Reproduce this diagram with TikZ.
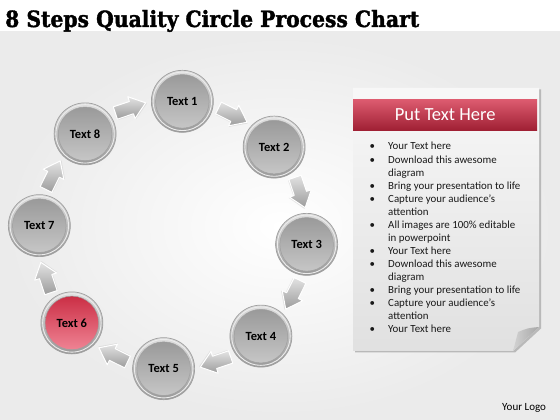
\documentclass[tikz,border=0pt]{standalone}
\usepackage{fontspec}
\setmainfont{Carlito}
\newfontfamily\titlefont{DejaVu Serif}[BoldFeatures={FakeBold=1.6}]
\usetikzlibrary{calc}
\definecolor{redtop}{RGB}{200,40,63}
\definecolor{redbot}{RGB}{242,138,154}
\definecolor{headtop}{RGB}{222,92,112}
\definecolor{headbot}{RGB}{160,32,52}
\tikzset{
  face/.style 2 args={path picture={
      \shade[top color=#1, bottom color=#2] (path picture bounding box.center) circle (26.8pt);
      \draw[white!85!gray, line width=0.9pt] (path picture bounding box.center) circle (29.2pt);
      \draw[gray!75, line width=0.5pt] (path picture bounding box.center) circle (26.8pt);
  }},
  stepbase/.style={circle, minimum size=62pt, inner sep=0pt, draw=gray!75, line width=0.7pt,
      top color=gray!25, bottom color=gray!80,
      font=\bfseries\fontsize{12.5}{14}\selectfont},
  greystep/.style={stepbase, face={gray!82}{gray!42}},
  redstep/.style={stepbase, face={redtop}{redbot}},
  flowshape/.style={draw=white, line width=1pt, top color=gray!22, bottom color=gray!78, line join=round},
  listtext/.style={font=\fontsize{10.9}{13.07}\selectfont, text=black!90, inner sep=0pt}
}
\begin{document}
\begin{tikzpicture}[x=1pt,y=1pt]
\useasboundingbox (0,0) rectangle (560,420);
\fill[white] (0,0) rectangle (560,420);
\shade[inner color=white, outer color=gray!16] (0,0) rectangle (560,388);
% title
\node[anchor=base west, inner sep=0pt] (title) at (5,393)
  {\resizebox{414pt}{17pt}{\titlefont\bfseries 8 Steps Quality Circle Process Chart}};
% circle of steps
\coordinate (C) at (173,185);
\foreach \k/\sty in {1/greystep,2/greystep,3/greystep,4/greystep,5/greystep,6/redstep,7/greystep,8/greystep}{
  \node[\sty] (c\k) at ($(C)+({86-45*(\k-1)}:134)$) {Text \k};
}
% block arrows between steps
\foreach \k in {1,...,8}{
  \coordinate (a\k) at ($(C)+({86-45*\k+22.5}:134)$);
  \begin{scope}[shift={(a\k)}, rotate={86-45*\k+22.5-90}]
    \fill[gray!40, opacity=0.5] (-15,-7.5) -- (1.5,-7.5) -- (1.5,-12.5) -- (17,-1) -- (1.5,10.5) -- (1.5,5.5) -- (-15,5.5) -- cycle;
    \shade[flowshape] (-16,-6.5) -- (1,-6.5) -- (1,-11.5) -- (16,0) -- (1,11.5) -- (1,6.5) -- (-16,6.5) -- cycle;
  \end{scope}
}
% panel
\fill[gray!55] (355,330.5) -- (541,330.5) -- (541,91.5) -- (515,67.5) -- (355,67.5) -- cycle;
\shade[top color=gray!6, bottom color=gray!24] (353,332) -- (539,332) -- (539,93) -- (513,69) -- (353,69) -- cycle;
\shade[left color=gray!35, right color=gray!70] (539,93) .. controls (528,92) .. (518,88) .. controls (516,80) .. (513,69) -- cycle;
\node[anchor=north west, minimum width=184pt, minimum height=31pt, inner sep=0pt,
      top color=headtop, bottom color=headbot, text=white,
      font=\fontsize{18.5}{20}\selectfont] (head) at (353,321) {Put Text Here};
\node[listtext, anchor=base west] (list) at (369.5,270) {%
\begin{tabular}[t]{@{}p{18.5pt}@{}l@{}}
\textbullet & Your Text here\\
\textbullet & Download this awesome\\
 & diagram\\
\textbullet & Bring your presentation to life\\
\textbullet & Capture your audience’s\\
 & attention\\
\textbullet & All images are 100\% editable\\
 & in powerpoint\\
\textbullet & Your Text here\\
\textbullet & Download this awesome\\
 & diagram\\
\textbullet & Bring your presentation to life\\
\textbullet & Capture your audience’s\\
 & attention\\
\textbullet & Your Text here
\end{tabular}};
\node[anchor=base west, inner sep=0pt, font=\fontsize{11}{13}\selectfont] (logo) at (502,9) {Your Logo};
\end{tikzpicture}
\end{document}
